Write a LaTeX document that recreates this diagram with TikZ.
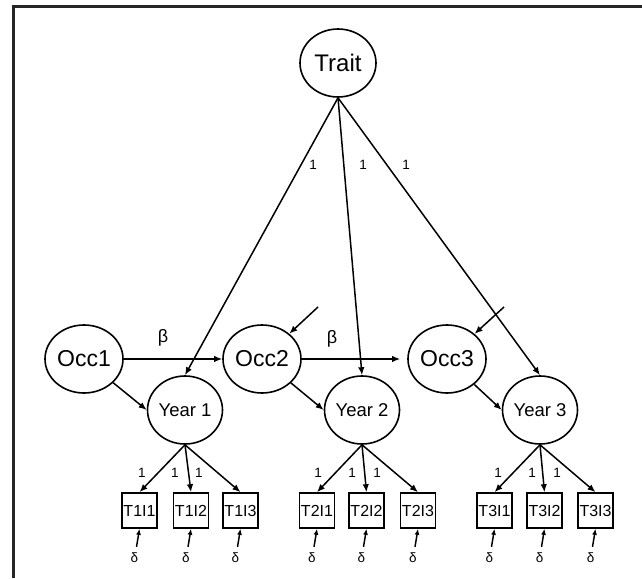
\documentclass[tikz,border=0pt]{standalone}
\usepackage{fontspec}
\setmainfont{Liberation Sans}
\usetikzlibrary{shapes.geometric,arrows.meta}
\begin{document}
\begin{tikzpicture}[x=1pt,y=-1pt,
  line width=1.6pt,
  lat/.style={ellipse, draw, line width=1.6pt, inner sep=0pt, minimum width=78pt, minimum height=68pt, font=\fontsize{23}{26}\selectfont},
  yr/.style={lat, minimum width=75pt, minimum height=68pt, font=\fontsize{18.5}{20}\selectfont},
  ind/.style={rectangle, draw, line width=1.6pt, inner sep=0pt, minimum width=35pt, minimum height=35pt, font=\fontsize{16}{18}\selectfont},
  arr/.style={-{Latex[length=8pt,width=6.5pt]}, line width=1.5pt},
  sarr/.style={-{Latex[length=6pt,width=5pt]}, line width=1.5pt},
  one/.style={font=\fontsize{13.5}{15}\selectfont, inner sep=0pt},
  del/.style={font=\fontsize{13.5}{15}\selectfont, inner sep=0pt},
  bet/.style={font=\fontsize{18}{20}\selectfont, inner sep=0pt}
]
\useasboundingbox (0,0) rectangle (642,578);
% frame (top and left only)
\draw[line width=2.2pt, black!85] (13.5,578) -- (13.5,6.5) -- (642,6.5);

% latent variables
\node[lat, minimum width=76pt, font=\fontsize{24}{26}\selectfont] (trait) at (338,63) {Trait};
\node[lat] (occ1) at (84,359) {Occ1};
\node[lat] (occ2) at (262,359) {Occ2};
\node[lat] (occ3) at (447,359) {Occ3};
\node[yr] (y1) at (185,410) {Year 1};
\node[yr] (y2) at (362,410) {Year 2};
\node[yr] (y3) at (540,410) {Year 3};

% indicators
\node[ind] (t11) at (139.5,510.5) {T1I1};
\node[ind] (t12) at (191,510.5) {T1I2};
\node[ind] (t13) at (240.5,510.5) {T1I3};
\node[ind] (t21) at (317,510.5) {T2I1};
\node[ind] (t22) at (366.5,510.5) {T2I2};
\node[ind] (t23) at (418,510.5) {T2I3};
\node[ind] (t31) at (494.5,510.5) {T3I1};
\node[ind] (t32) at (544.5,510.5) {T3I2};
\node[ind] (t33) at (595.5,510.5) {T3I3};

% trait loadings
\draw[arr] (trait.south) -- (y1.north);
\draw[arr] (trait.south) -- (y2.north);
\draw[arr] (trait.south) -- (y3.north);
\node[one] (lt1) at (313,165) {1};
\node[one] (lt2) at (363,165) {1};
\node[one] (lt3) at (406,165) {1};

% autoregressive paths
\draw[arr] (occ1) -- (occ2);
\draw[arr, shorten >=7pt] (occ2) -- (occ3);
\node[bet] (b1) at (163,338) {β};
\node[bet] (b2) at (332,339) {β};

% occasion to year
\draw[arr] (occ1) -- (y1.west);
\draw[arr] (occ2) -- (y2.west);
\draw[arr] (occ3) -- (y3.west);

% disturbances
\coordinate (e2) at (318,307);
\coordinate (e3) at (504,307);
\draw[arr] (e2) -- (occ2);
\draw[arr] (e3) -- (occ3);

% indicator loadings
\foreach \y/\a/\b/\c in {y1/t11/t12/t13, y2/t21/t22/t23, y3/t31/t32/t33}{
  \draw[arr] (\y.south) -- (\a.north);
  \draw[arr] (\y.south) -- (\b.north);
  \draw[arr] (\y.south) -- (\c.north);
}
\node[one] (l11) at (142,473) {1};
\node[one] (l12) at (175,473) {1};
\node[one] (l13) at (199,473) {1};
\node[one] (l21) at (318,473) {1};
\node[one] (l22) at (352,473) {1};
\node[one] (l23) at (377,473) {1};
\node[one] (l31) at (498,473) {1};
\node[one] (l32) at (532,473) {1};
\node[one] (l33) at (557,473) {1};

% measurement errors
\foreach \t in {t11,t12,t13,t21,t22,t23,t31,t32,t33}{
  \path (\t.south) ++(-5,29) node[del] (d\t) {δ};
  \path (\t.south) ++(-3,18) coordinate (c\t);
  \draw[sarr] (c\t) -- (\t.south);
}
\end{tikzpicture}
\end{document}
